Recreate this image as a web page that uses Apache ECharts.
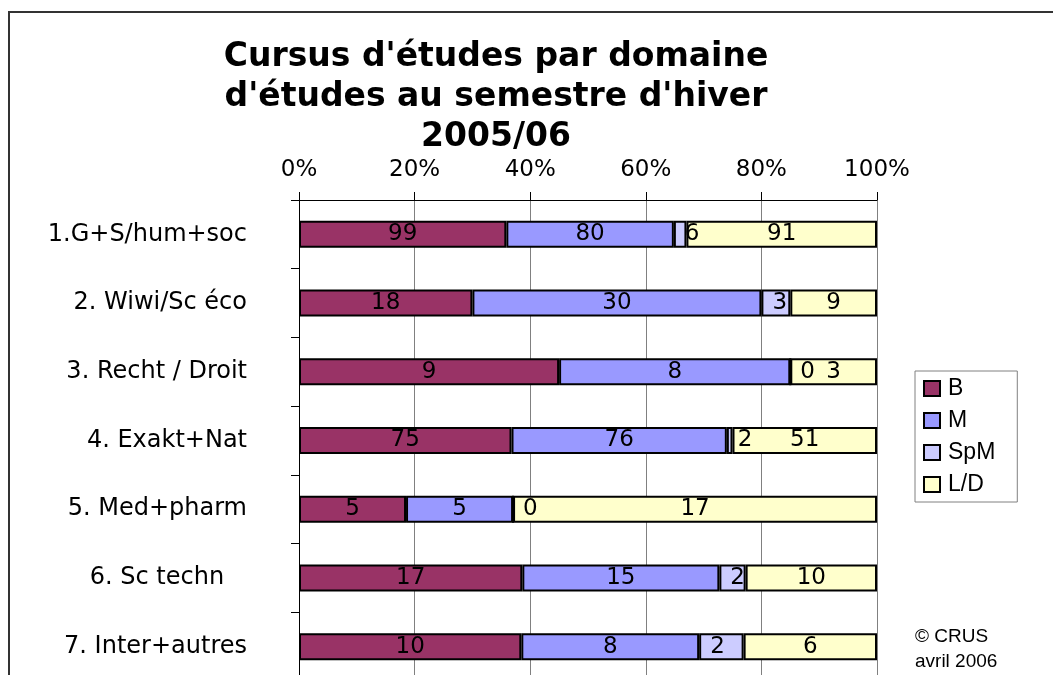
<!DOCTYPE html>
<html>
<head>
<meta charset="utf-8">
<script src="https://cdn.jsdelivr.net/npm/echarts@6/dist/echarts.min.js"></script>
<style>html,body{margin:0;padding:0;background:#fff;}#c{width:1053px;height:675px;}</style>
</head>
<body>
<div id="c"></div>
<script>
const categories = ['1.G+S/hum+soc', '2. Wiwi/Sc éco', '3. Recht / Droit', '4. Exakt+Nat', '5. Med+pharm', '6. Sc techn   ', '7. Inter+autres'];
const seriesNames = ['B', 'M', 'SpM', 'L/D'];
const valuesB   = [99, 18, 9, 75, 5, 17, 10];
const valuesM   = [80, 30, 8, 76, 5, 15, 8];
const valuesSpM = [6, 3, 0, 2, 0, 2, 2];
const valuesLD  = [91, 9, 3, 51, 17, 10, 6];
const tickLabels = ['0%', '20%', '40%', '60%', '80%', '100%'];

const raw = [valuesB, valuesM, valuesSpM, valuesLD];
const totals = categories.map((_, i) => raw.reduce((s, arr) => s + arr[i], 0));
const colors = ['#993366', '#9999FF', '#CCCCFF', '#FFFFCC'];
const FONT = 'DejaVu Sans';

const series = raw.map((arr, k) => ({
  name: seriesNames[k],
  type: 'bar',
  stack: 'total',
  barWidth: 27,
  data: arr.map((v, i) => v / totals[i] * 100),
  itemStyle: { color: colors[k], borderColor: '#000', borderWidth: 2 },
  label: {
    show: true,
    position: k === 2 ? 'insideLeft' : 'inside',
    distance: k === 2 ? 11 : 5,
    color: '#000',
    fontFamily: FONT,
    fontSize: 23,
    formatter: p => String(arr[p.dataIndex])
  },
  emphasis: { disabled: true }
}));

const chart = echarts.init(document.getElementById('c'), null, { renderer: 'canvas' });
chart.setOption({
  animation: false,
  backgroundColor: '#fff',
  title: {
    text: "Cursus d'études par domaine\nd'études au semestre d'hiver\n2005/06",
    left: 491,
    top: 32,
    textAlign: 'center',
    textStyle: { fontFamily: FONT, fontWeight: 'bold', fontSize: 33, lineHeight: 40, color: '#000' }
  },
  legend: {
    orient: 'vertical',
    left: 915,
    top: 371,
    data: seriesNames,
    icon: 'rect',
    itemWidth: 16,
    itemHeight: 15,
    itemGap: 9,
    padding: [6, 22, 6, 8],
    borderColor: '#808080',
    borderWidth: 1,
    borderRadius: 0,
    selectedMode: false,
    textStyle: { fontFamily: 'Liberation Sans', fontSize: 23, lineHeight: 23, color: '#000', padding: [0, 0, 0, 3] }
  },
  grid: { left: 299, right: 176, top: 200, height: 481, containLabel: false, outerBoundsMode: 'none' },
  xAxis: {
    type: 'value',
    position: 'top',
    min: 0,
    max: 100,
    interval: 20,
    axisLine: { show: true, lineStyle: { color: '#000', width: 1 } },
    axisTick: { show: true, length: 8, lineStyle: { color: '#000' } },
    axisLabel: {
      margin: 18,
      fontFamily: FONT,
      fontSize: 23,
      color: '#000',
      formatter: (v) => tickLabels[Math.round(v / 20)]
    },
    splitLine: { show: true, lineStyle: { color: '#808080', width: 1 } }
  },
  yAxis: {
    type: 'category',
    inverse: true,
    data: categories,
    axisLine: { show: true, lineStyle: { color: '#000', width: 1 } },
    axisTick: { show: true, length: 8, lineStyle: { color: '#000' } },
    axisLabel: { margin: 52, fontFamily: FONT, fontSize: 24, color: '#000', align: 'right' },
    splitLine: { show: false }
  },
  series: series,
  graphic: [
    { type: 'rect', shape: { x: 9, y: 12, width: 1100, height: 700 }, style: { fill: 'none', stroke: '#333', lineWidth: 2 }, silent: true },
    { type: 'text', x: 915, y: 624, style: { text: '© CRUS\navril 2006', fontFamily: 'Liberation Sans', fontSize: 19, lineHeight: 25, fill: '#000' }, silent: true }
  ]
});
</script>
</body>
</html>
